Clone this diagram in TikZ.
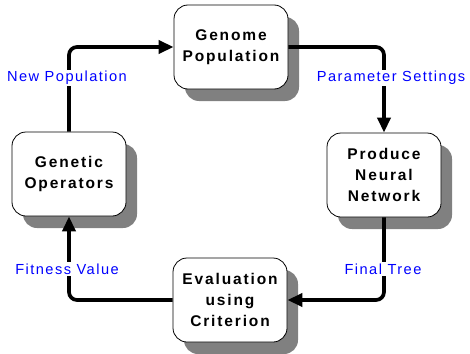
\documentclass[tikz,border=0pt]{standalone}
\usepackage{fontspec}
\setmainfont{Liberation Sans}
\newfontfamily\stagefont[LetterSpace=12]{Liberation Sans}
\newfontfamily\flowfont[LetterSpace=10]{Liberation Sans}
\usetikzlibrary{arrows.meta,shadows}

\begin{document}
\begin{tikzpicture}[x=1pt,y=-1pt,
    stage/.style={draw, line width=0.8pt, rounded corners=14pt, fill=white,
      minimum width=114pt, minimum height=84pt, align=center, inner sep=2pt,
      font=\stagefont\bfseries\fontsize{15.5}{21}\selectfont,
      drop shadow={shadow xshift=11pt, shadow yshift=-12pt, fill=black!50, opacity=1}},
    flow/.style={line width=3.7pt, rounded corners=8pt,
      -{Triangle[length=15pt,width=13pt]}},
    flowlabel/.style={fill=white, text=blue, inner sep=1.5pt,
      font=\flowfont\fontsize{14.6}{16}\selectfont}]
  \useasboundingbox (0,0) rectangle (470,353);
  % Stages of the cycle
  \node [stage] (genome) at (231,47) {Genome\\Population};
  \node [stage] (produce) at (384,175) {Produce\\Neural\\Network};
  \node [stage] (evaluation) at (230,300) {Evaluation\\using\\Criterion};
  \node [stage] (genetic) at (69,174) {Genetic\\Operators};
  % Connectors
  \draw [flow] (genome.east) -| (produce.north);
  \draw [flow] (produce.south) |- (evaluation.east);
  \draw [flow] (evaluation.west) -| (genetic.south);
  \draw [flow] (genetic.north) |- (genome.west);
  % Labels on the connectors
  \node [flowlabel] (newpop) at (67,78) {New Population};
  \node [flowlabel] (params) at (391,78) {Parameter Settings};
  \node [flowlabel] (finaltree) at (383,269) {Final Tree};
  \node [flowlabel] (fitness) at (67,269) {Fitness Value};
\end{tikzpicture}
\end{document}
